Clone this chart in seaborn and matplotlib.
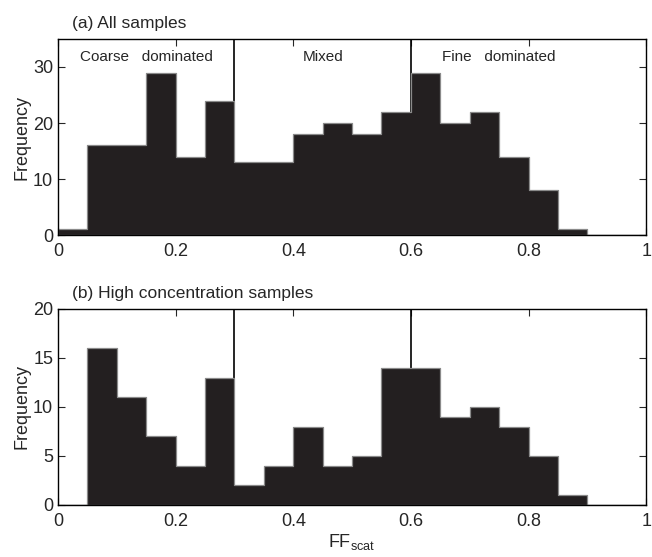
import matplotlib
matplotlib.use("Agg")
import matplotlib.pyplot as plt
import numpy as np
import pandas as pd
import seaborn as sns

# bins of width 0.05 from 0 to 1
bin_centers = np.round(np.arange(0.025, 1.0, 0.05), 3)

counts_all = [1, 16, 16, 29, 14, 24, 13, 13, 18, 20, 18, 22, 29, 20, 22, 14, 8, 1, 0, 0]
counts_high = [0, 16, 11, 7, 4, 13, 2, 4, 8, 4, 5, 14, 14, 9, 10, 8, 5, 1, 0, 0]

boundaries = [0.3, 0.6]
region_labels = ["Coarse   dominated", "Mixed", "Fine   dominated"]
region_x = [0.15, 0.45, 0.75]

sns.set_style("ticks")
plt.rcParams['font.family'] = ['Liberation Sans', 'DejaVu Sans']
plt.rcParams['mathtext.fontset'] = 'custom'
plt.rcParams['mathtext.rm'] = 'Liberation Sans'

fig = plt.figure(figsize=(6.52, 5.57), dpi=100)
ax_a = fig.add_axes([0.089, 0.578, 0.902, 0.352])
ax_b = fig.add_axes([0.089, 0.0934, 0.902, 0.352])

panels = [
    (ax_a, counts_all, 35, [0, 10, 20, 30], "(a) All samples"),
    (ax_b, counts_high, 20, [0, 5, 10, 15, 20], "(b) High concentration samples"),
]

for ax, counts, ymax, yticks, title in panels:
    df = pd.DataFrame({"ff": bin_centers, "n": counts})
    for b in boundaries:
        ax.axvline(b, color="black", lw=1.2, zorder=1)
    sns.histplot(data=df, x="ff", weights="n", binwidth=0.05, binrange=(0, 1),
                 element="step", ax=ax, color="#231f20", edgecolor="#8a8a8a",
                 linewidth=0.9, alpha=1, zorder=2)
    ax.set_xlim(0, 1)
    ax.set_ylim(0, ymax)
    ax.set_yticks(yticks)
    ax.set_xticks([0, 0.2, 0.4, 0.6, 0.8, 1])
    ax.set_xticklabels(["0", "0.2", "0.4", "0.6", "0.8", "1"])
    ax.tick_params(direction="in", top=True, right=True, labelsize=13,
                   length=5, width=0.8)
    ax.tick_params(axis="x", pad=6)
    for sp in ax.spines.values():
        sp.set_visible(True)
        sp.set_linewidth(1.0)
        sp.set_color("black")
        sp.set_zorder(5)
    ax.set_ylabel("Frequency", fontsize=13, labelpad=2)
    ax.set_xlabel("")
    ax.text(0.024, 1.055, title, transform=ax.transAxes, fontsize=12.5,
            ha="left", va="baseline")

for lab, x in zip(region_labels, region_x):
    ax_a.text(x, 31, lab, ha="center", va="baseline", fontsize=11)

ax_b.set_xlabel(r"FF$_{\rm scat}$", fontsize=13, labelpad=1)

fig.savefig("out.png", dpi=100)
